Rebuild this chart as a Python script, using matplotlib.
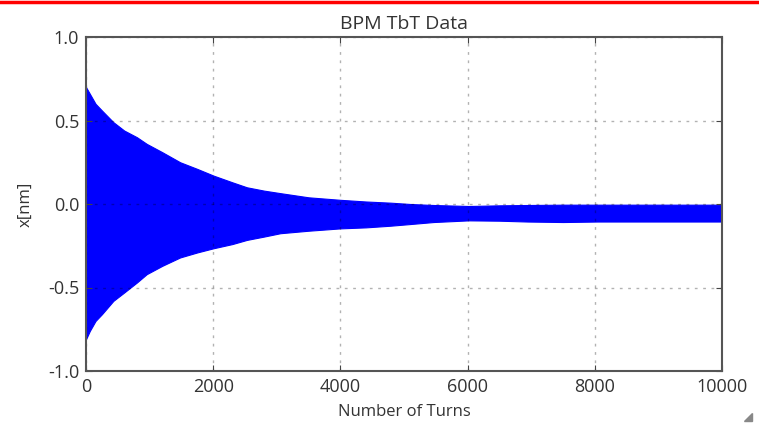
import matplotlib
matplotlib.use("Agg")
import matplotlib.pyplot as plt
from matplotlib.lines import Line2D
from matplotlib.patches import Polygon

# envelope of the turn-by-turn signal
turns = [0, 60, 150, 250, 430, 600, 800, 955, 1200, 1480, 1750, 2005, 2300,
         2530, 2800, 3055, 3500, 4000, 4400, 4787, 5100, 5465, 6020, 6500,
         6940, 7500, 8042, 8600, 9200, 10000]
upper = [0.70, 0.66, 0.60, 0.56, 0.49, 0.44, 0.40, 0.36, 0.31, 0.25, 0.21,
         0.17, 0.13, 0.10, 0.08, 0.065, 0.04, 0.025, 0.015, 0.008, 0.0,
         -0.006, -0.012, -0.008, -0.006, -0.004, -0.004, -0.004, -0.004,
         -0.004]
lower = [-0.81, -0.76, -0.70, -0.66, -0.58, -0.53, -0.47, -0.42, -0.37,
         -0.32, -0.29, -0.265, -0.24, -0.215, -0.195, -0.175, -0.16, -0.146,
         -0.14, -0.13, -0.12, -0.108, -0.098, -0.10, -0.105, -0.108, -0.105,
         -0.105, -0.105, -0.105]

xticks = [0, 2000, 4000, 6000, 8000, 10000]
yticks = [-1.0, -0.5, 0.0, 0.5, 1.0]

plt.rcParams['font.family'] = ['Open Sans', 'DejaVu Sans']

fig = plt.figure(figsize=(7.59, 4.25), dpi=100)
ax = fig.add_axes([86 / 759, 1 - 371 / 425, 636 / 759, 334 / 425])

ax.fill_between(turns, lower, upper, color='#0000ff', lw=0.8,
                edgecolor='#0000ff')

ax.set_xlim(0, 10000)
ax.set_ylim(-1.0, 1.0)
ax.set_xticks(xticks)
ax.set_yticks(yticks)
ax.set_yticklabels(['%.1f' % v for v in yticks])
ax.tick_params(direction='in', length=4, color='#444444', labelsize=13,
               labelcolor='#333333', top=True, right=True, pad=5)
ax.grid(True, color='black', alpha=0.3, linestyle=(0, (2, 4)), lw=1)
for s in ax.spines.values():
    s.set_color('#555555')
    s.set_linewidth(1.5)

ax.set_title('BPM TbT Data', fontsize=14, color='#333333', pad=6)
ax.set_xlabel('Number of Turns', fontsize=12, color='#333333', labelpad=6)
ax.set_ylabel('x[nm]', fontsize=12, color='#333333', labelpad=10)

# screenshot frame bits
fig.add_artist(Line2D([0, 1], [1 - 1.5 / 425, 1 - 1.5 / 425], color='red',
                      lw=2.5, transform=fig.transFigure))
fig.add_artist(Polygon([[752 / 759, 1 - 413 / 425], [752 / 759, 1 - 421 / 425],
                        [744 / 759, 1 - 421 / 425]], closed=True,
                       color='#888888', transform=fig.transFigure))

fig.savefig('out.png', dpi=100)
